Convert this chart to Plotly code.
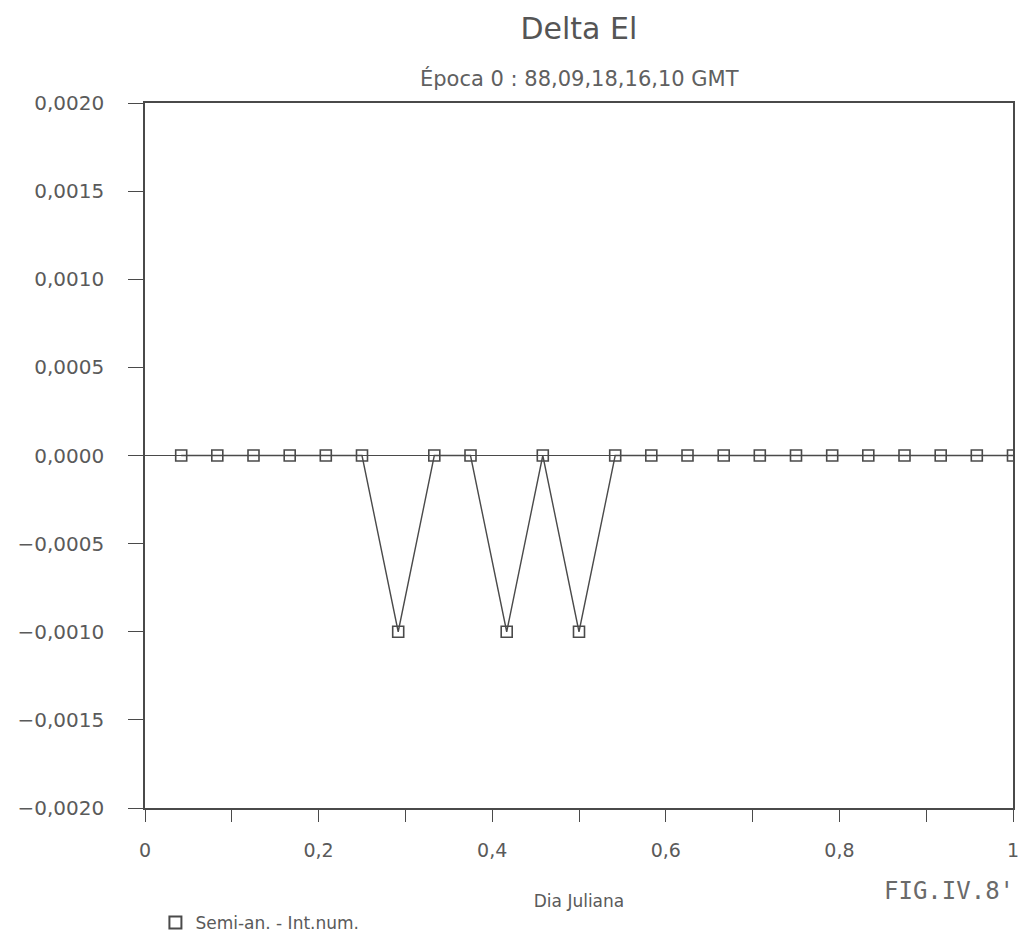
import plotly.graph_objects as go

# Data: Julian day fraction (hourly samples) vs Delta El difference
dia_juliana = [0.0417, 0.0833, 0.1250, 0.1667, 0.2083, 0.2500, 0.2917, 0.3333,
               0.3750, 0.4167, 0.4583, 0.5000, 0.5417, 0.5833, 0.6250, 0.6667,
               0.7083, 0.7500, 0.7917, 0.8333, 0.8750, 0.9167, 0.9583, 1.0000]
delta_el = [0.0, 0.0, 0.0, 0.0, 0.0, 0.0, -0.0010, 0.0,
            0.0, -0.0010, 0.0, -0.0010, 0.0, 0.0, 0.0, 0.0,
            0.0, 0.0, 0.0, 0.0, 0.0, 0.0, 0.0, 0.0]

serie_nome = "Semi-an. - Int.num."
y_ticks = [-0.0020, -0.0015, -0.0010, -0.0005, 0.0, 0.0005, 0.0010, 0.0015, 0.0020]
x_ticks = [0, 0.2, 0.4, 0.6, 0.8, 1]
x_ticktext = ["0", "0,2", "0,4", "0,6", "0,8", "1"]

ink = "#4a4a4a"
txt = "#5a5a5a"
font_main = "DejaVu Sans"

fig = go.Figure()
fig.add_trace(go.Scatter(
    x=dia_juliana, y=delta_el, mode="lines+markers",
    line=dict(color=ink, width=1.4),
    marker=dict(symbol="square-open", size=11, color=ink, line=dict(width=1.6, color=ink)),
    showlegend=False,
))
# legend entry (symbol only, as in the original)
fig.add_trace(go.Scatter(
    x=[None], y=[None], mode="markers", name=serie_nome,
    marker=dict(symbol="square-open", size=13, color=ink, line=dict(width=1.8, color=ink)),
    showlegend=True,
))

fig.update_layout(
    width=1021, height=937,
    margin=dict(l=145, r=8, t=103, b=129, autoexpand=False),
    paper_bgcolor="white", plot_bgcolor="white",
    separators=",.",
    font=dict(family=font_main, color=txt, size=18),
    title=dict(text="Delta El", x=0.567, xanchor="center", y=1 - 28 / 937, yanchor="middle",
               font=dict(size=30, color="#555555", family=font_main)),
    legend=dict(x=0.012, xanchor="left", y=-0.163, yanchor="middle",
                font=dict(size=17, color=txt), bgcolor="rgba(0,0,0,0)",
                itemsizing="constant"),
    annotations=[
        dict(text="Época 0 : 88,09,18,16,10 GMT", xref="paper", yref="paper",
             x=0.5, y=1 + (103 - 78) / 705, xanchor="center", yanchor="middle",
             showarrow=False, font=dict(size=21, color="#606060", family=font_main)),
        dict(text="FIG.IV.8'", xref="paper", yref="paper",
             x=1.004, y=-(891 - 808) / 705, xanchor="right", yanchor="middle",
             showarrow=False, font=dict(size=24, color="#6a6a6a", family="DejaVu Sans Mono")),
    ],
)

fig.update_xaxes(
    range=[0, 1], tickvals=x_ticks, ticktext=x_ticktext,
    ticks="outside", ticklen=12, tickwidth=1.3, tickcolor=ink,
    minor=dict(dtick=0.1, tick0=0, ticks="outside", ticklen=12, tickwidth=1.3, tickcolor=ink),
    ticklabelstandoff=12, automargin=False,
    showline=True, linecolor=ink, linewidth=1.5, mirror=True,
    showgrid=False, zeroline=False,
    tickfont=dict(size=19, color=txt),
    title=dict(text="Dia Juliana", standoff=36, font=dict(size=17, color=txt)),
)
fig.update_yaxes(
    range=[-0.0020, 0.0020], tickvals=y_ticks, tickformat=".4f",
    ticks="outside", ticklen=15, tickwidth=1.3, tickcolor=ink,
    ticklabelstandoff=20, automargin=False,
    showline=True, linecolor=ink, linewidth=1.5, mirror=True,
    showgrid=False, zeroline=True, zerolinecolor=ink, zerolinewidth=1.3,
    tickfont=dict(size=20, color=txt),
)

fig.write_html("out.html")
